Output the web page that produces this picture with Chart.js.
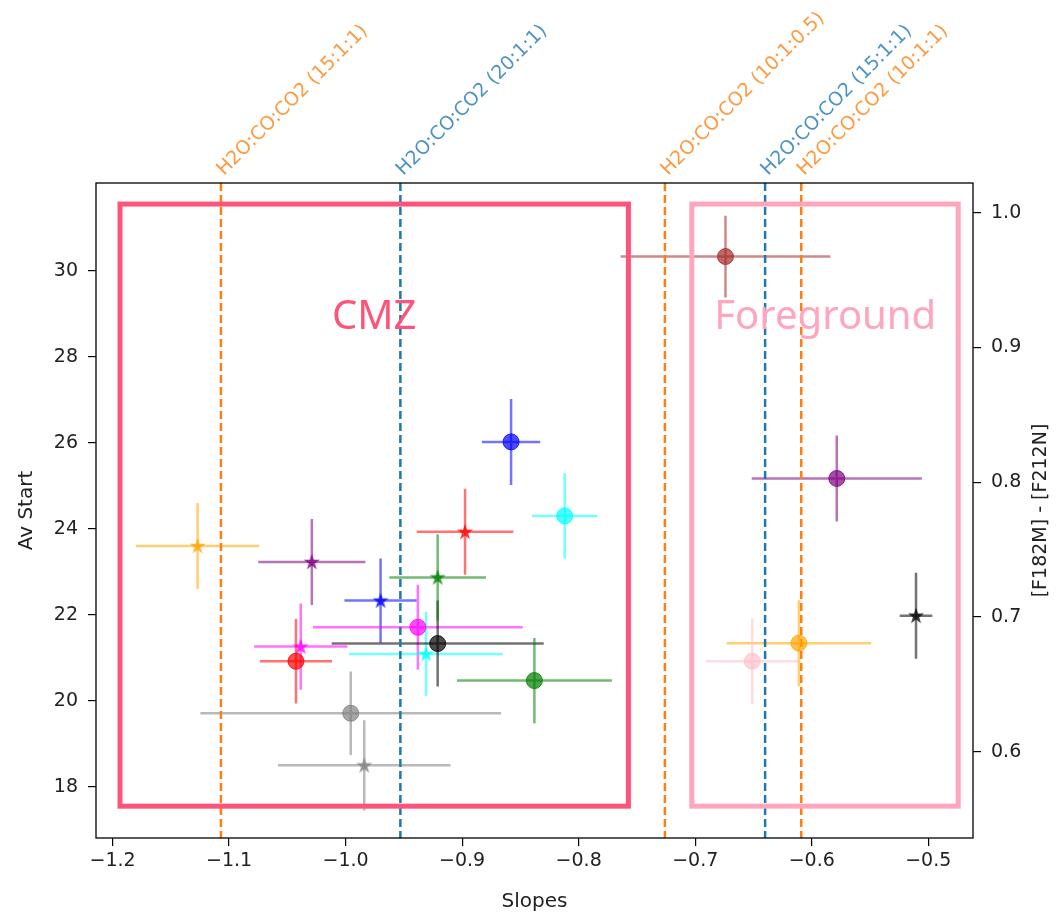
<!DOCTYPE html>
<html>
<head>
<meta charset="utf-8">
<script src="https://cdn.jsdelivr.net/npm/chart.js@4/dist/chart.umd.min.js"></script>
<style>
  html, body { margin: 0; padding: 0; background: #fff; }
  #wrap { width: 1064px; height: 916px; position: relative; }
</style>
</head>
<body>
<div id="wrap"><canvas id="chart"></canvas></div>
<script>
// -----------------------------
// Data
// -----------------------------
const slopes   = [-1.127, -1.029, -0.970, -1.0385, -1.0426, -0.9956, -0.984, -0.938, -0.931, -0.921, -0.921, -0.8975, -0.858, -0.812, -0.838,
                  -0.674, -0.5785, -0.5105, -0.611, -0.651];
const avStart  = [23.60, 23.23, 22.33, 21.26, 20.92, 19.71, 18.50, 21.71, 21.09, 21.33, 22.87, 23.93, 26.02, 24.30, 20.47,
                  30.33, 25.17, 21.98, 21.34, 20.92];
const slopeErr = [0.053, 0.046, 0.031, 0.040, 0.031, 0.129, 0.074, 0.090, 0.066, 0.091, 0.0415, 0.0415, 0.025, 0.028, 0.0665,
                  0.090, 0.073, 0.014, 0.062, 0.040];
const avErr    = [1.0, 1.0, 0.98, 1.0, 0.98, 0.97, 1.05, 0.99, 0.98, 1.0, 1.0, 1.0, 1.0, 0.99, 0.99,
                  0.95, 1.0, 1.0, 1.0, 1.0];
const colors   = ["orange", "purple", "blue", "magenta", "red", "gray", "gray", "magenta", "cyan", "black", "green", "red", "blue", "cyan", "green",
                  "brown", "purple", "black", "orange", "pink"];
const markers  = ["star", "star", "star", "star", "circle", "circle", "star", "circle", "star", "circle", "star", "star", "circle", "circle", "circle",
                  "circle", "circle", "star", "circle", "circle"];

const xTicks  = [-1.2, -1.1, -1.0, -0.9, -0.8, -0.7, -0.6, -0.5];
const yTicks  = [18, 20, 22, 24, 26, 28, 30];
const y2Ticks = [0.6, 0.7, 0.8, 0.9, 1.0];

// ice mixture reference slopes
const iceSlopes = [-1.107, -0.953, -0.726, -0.640, -0.609];
const iceLabels = ["H2O:CO:CO2 (15:1:1)", "H2O:CO:CO2 (20:1:1)", "H2O:CO:CO2 (10:1:0.5)", "H2O:CO:CO2 (15:1:1)", "H2O:CO:CO2 (10:1:1)"];
const iceColors = ["#ff7f0e", "#1f77b4", "#ff7f0e", "#1f77b4", "#ff7f0e"];

// highlighted regions
const regionNames = ["CMZ", "Foreground"];
const regionX     = [[-1.1936, -0.7573], [-0.7029, -0.4743]];
const regionY     = [17.55, 31.55];
const regionColors = ["#ff5479", "#ffa6bd"];

// -----------------------------
// Helpers
// -----------------------------
const named = {
  orange: "#ffa500", purple: "#800080", blue: "#0000ff", magenta: "#ff00ff", red: "#ff0000",
  gray: "#808080", darkgray: "#a9a9a9", cyan: "#00ffff", black: "#000000", green: "#008000",
  brown: "#a52a2a", pink: "#ffc0cb"
};
function rgba(name, a) {
  const h = named[name] || name;
  const r = parseInt(h.slice(1, 3), 16), g = parseInt(h.slice(3, 5), 16), b = parseInt(h.slice(5, 7), 16);
  return `rgba(${r},${g},${b},${a})`;
}

// filled 5-point star like matplotlib's '*'
function starImage(name) {
  const c = document.createElement("canvas");
  c.width = 20; c.height = 20;
  const g = c.getContext("2d");
  const R = 8.5, r = R * 0.382;
  g.beginPath();
  for (let k = 0; k < 10; k++) {
    const rad = k % 2 === 0 ? R : r;
    const ang = -Math.PI / 2 + k * Math.PI / 5;
    const px = 10 + rad * Math.cos(ang), py = 10.5 + rad * Math.sin(ang);
    k === 0 ? g.moveTo(px, py) : g.lineTo(px, py);
  }
  g.closePath();
  g.fillStyle = rgba(name, 0.8);
  g.fill();
  return c;
}

const fmtMinus = v => (v < 0 ? "\u2212" : "") + Math.abs(v).toFixed(1);

// -----------------------------
// Plugins
// -----------------------------
const errorBars = {
  id: "errorBars",
  beforeDatasetsDraw(chart) {
    const { ctx, scales: { x, y }, chartArea } = chart;
    ctx.save();
    ctx.beginPath();
    ctx.rect(chartArea.left, chartArea.top, chartArea.right - chartArea.left, chartArea.bottom - chartArea.top);
    ctx.clip();
    ctx.lineWidth = 2.5;
    for (let i = 0; i < slopes.length; i++) {
      const px = x.getPixelForValue(slopes[i]);
      const py = y.getPixelForValue(avStart[i]);
      ctx.strokeStyle = rgba(colors[i], 0.55);
      ctx.beginPath();
      ctx.moveTo(x.getPixelForValue(slopes[i] - slopeErr[i]), py);
      ctx.lineTo(x.getPixelForValue(slopes[i] + slopeErr[i]), py);
      ctx.moveTo(px, y.getPixelForValue(avStart[i] - avErr[i]));
      ctx.lineTo(px, y.getPixelForValue(avStart[i] + avErr[i]));
      ctx.stroke();
    }
    // vertical dashed ice lines
    ctx.lineWidth = 2.5;
    ctx.setLineDash([8, 4]);
    iceSlopes.forEach((s, i) => {
      const px = x.getPixelForValue(s);
      ctx.strokeStyle = iceColors[i];
      ctx.beginPath();
      ctx.moveTo(px, chartArea.top);
      ctx.lineTo(px, chartArea.bottom);
      ctx.stroke();
    });
    ctx.restore();
  }
};

const overlay = {
  id: "overlay",
  afterDatasetsDraw(chart) {
    const { ctx, scales: { x, y } } = chart;
    ctx.save();
    // region boxes
    ctx.lineWidth = 5;
    regionNames.forEach((n, i) => {
      const x0 = x.getPixelForValue(regionX[i][0]), x1 = x.getPixelForValue(regionX[i][1]);
      const y0 = y.getPixelForValue(regionY[1]), y1 = y.getPixelForValue(regionY[0]);
      ctx.strokeStyle = regionColors[i];
      ctx.strokeRect(x0, y0, x1 - x0, y1 - y0);
    });
    // region labels
    ctx.font = "40px 'Noto Sans'";
    ctx.textAlign = "center";
    ctx.textBaseline = "middle";
    const labelX = [-0.9755, -0.5884];
    regionNames.forEach((n, i) => {
      ctx.fillStyle = regionColors[i];
      ctx.fillText(n, x.getPixelForValue(labelX[i]), y.getPixelForValue(28.9));
    });
    ctx.restore();
  },
  afterDraw(chart) {
    const { ctx, scales: { x }, chartArea } = chart;
    ctx.save();
    // axes frame
    ctx.strokeStyle = "#000";
    ctx.lineWidth = 1.3;
    ctx.strokeRect(chartArea.left, chartArea.top, chartArea.right - chartArea.left, chartArea.bottom - chartArea.top);
    // rotated ice labels above the axes
    ctx.font = "19px 'DejaVu Sans'";
    ctx.textAlign = "left";
    ctx.textBaseline = "alphabetic";
    iceSlopes.forEach((s, i) => {
      const px = x.getPixelForValue(s);
      ctx.save();
      ctx.translate(px + 3, chartArea.top - 7);
      ctx.rotate(-Math.PI / 4);
      ctx.globalAlpha = 0.8;
      ctx.fillStyle = iceColors[i];
      ctx.fillText(iceLabels[i], 0, 0);
      ctx.restore();
    });
    // right axis title (reads bottom to top)
    ctx.save();
    ctx.translate(1041, (chartArea.top + chartArea.bottom) / 2);
    ctx.rotate(-Math.PI / 2);
    ctx.font = "19px 'DejaVu Sans'";
    ctx.fillStyle = "#222";
    ctx.textAlign = "center";
    ctx.textBaseline = "middle";
    ctx.fillText("[F182M] - [F212N]", 0, 0);
    ctx.restore();
    ctx.restore();
  }
};

// -----------------------------
// Chart
// -----------------------------
Chart.defaults.font.family = "'DejaVu Sans'";
Chart.defaults.color = "#222";

const tickGrid = { drawOnChartArea: false, drawTicks: true, tickLength: 8, color: "#000", lineWidth: 1.2 };

new Chart(document.getElementById("chart"), {
  type: "scatter",
  data: {
    datasets: [{
      data: slopes.map((s, i) => ({ x: s, y: avStart[i] })),
      pointStyle: markers.map((m, i) => m === "star" ? starImage(colors[i]) : "circle"),
      pointRadius: 8,
      pointHoverRadius: 8,
      pointBackgroundColor: colors.map(c => rgba(c, 0.7)),
      pointBorderColor: colors.map(c => rgba(c, 0.8)),
      pointBorderWidth: 1,
      showLine: false
    }]
  },
  options: {
    responsive: true,
    maintainAspectRatio: false,
    animation: false,
    layout: { padding: { top: 183, left: 0, right: 0, bottom: 0 } },
    plugins: { legend: { display: false }, tooltip: { enabled: false } },
    scales: {
      x: {
        type: "linear", position: "bottom",
        min: -1.2142, max: -0.4616,
        afterBuildTicks: s => { s.ticks = xTicks.map(v => ({ value: v })); },
        afterFit: s => { s.height = 78; },
        grid: tickGrid, border: { display: false },
        ticks: { font: { size: 19 }, padding: 4, maxRotation: 0, callback: v => fmtMinus(v) },
        title: { display: true, text: "Slopes", font: { size: 20 }, padding: { top: 0, bottom: 2 } }
      },
      y: {
        type: "linear", position: "left",
        min: 16.81, max: 32.04,
        afterBuildTicks: s => { s.ticks = yTicks.map(v => ({ value: v })); },
        afterFit: s => { s.width = 96; },
        grid: tickGrid, border: { display: false },
        ticks: { font: { size: 19 }, padding: 10, callback: v => String(v) },
        title: { display: true, text: "Av Start", font: { size: 20 }, padding: { top: 15, bottom: 0 } }
      },
      y2: {
        type: "linear", position: "right",
        min: 0.536, max: 1.022,
        afterBuildTicks: s => { s.ticks = y2Ticks.map(v => ({ value: v })); },
        afterFit: s => { s.width = 91; },
        grid: tickGrid, border: { display: false },
        ticks: { font: { size: 19 }, padding: 10, callback: v => v.toFixed(1) }
      }
    }
  },
  plugins: [errorBars, overlay]
});
</script>
</body>
</html>
